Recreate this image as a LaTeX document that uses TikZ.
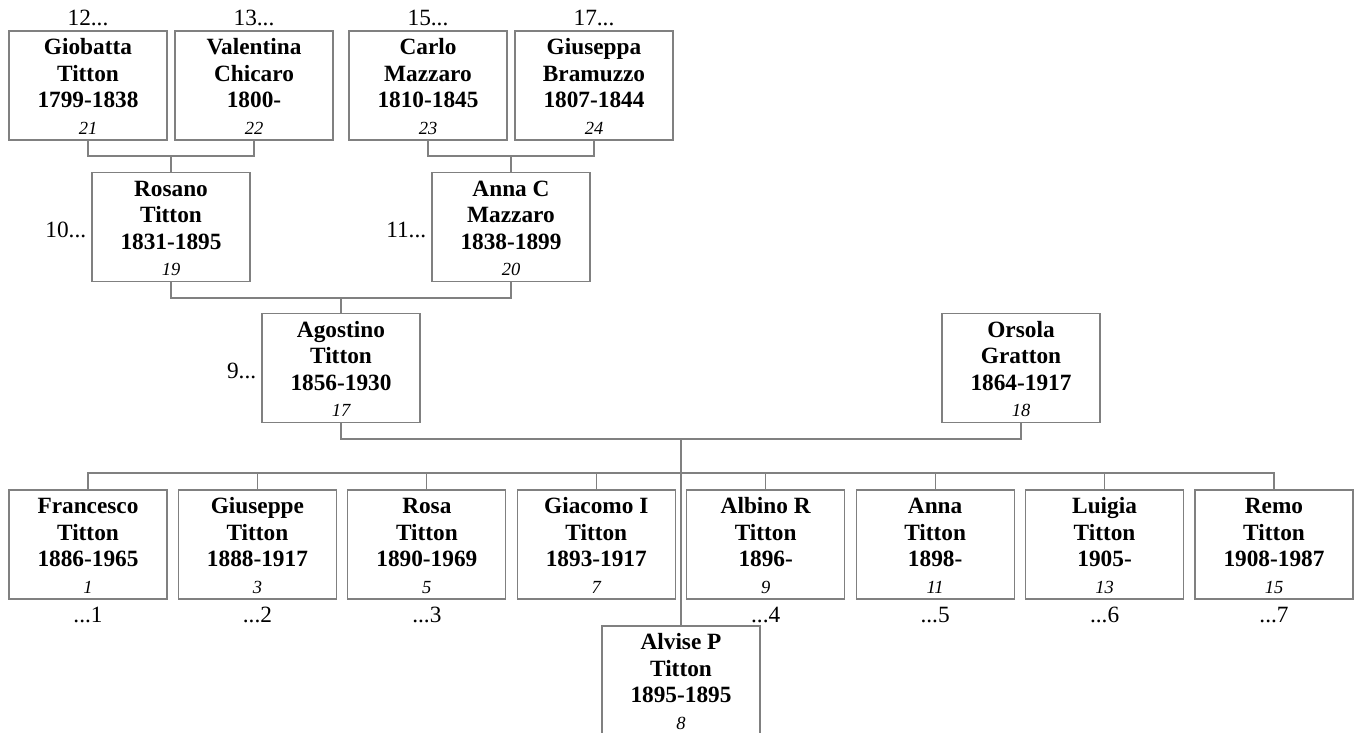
\documentclass[tikz,border=0pt]{standalone}
\usepackage{fontspec}
\setmainfont{Liberation Serif}
\usetikzlibrary{positioning}
\tikzstyle{person} = [rectangle, draw=black!50, line width=1.2pt, minimum width=158pt, minimum height=109pt, inner sep=0pt, align=center, text height=97pt, text depth=0pt, font=\fontsize{23.3}{26.5}\selectfont\bfseries]
\tikzstyle{link} = [draw=black!50, line width=1.2pt]
\tikzstyle{ref} = [font=\fontsize{23.3}{26.5}\selectfont, inner sep=2pt]
\newcommand{\pnum}[1]{{\fontsize{18.5}{26.5}\selectfont\mdseries\itshape #1}}
\def\kidy{544.5}
\def\kidstep{169.43}

\begin{document}
\begin{tikzpicture}[x=1pt,y=-1pt]

\useasboundingbox (0,0) rectangle (1360,732);

% grandparents
\node[person] (giobatta) at (88,85.5) {Giobatta\\Titton\\1799-1838\\\pnum{21}};
\node[person] (valentina) at (254,85.5) {Valentina\\Chicaro\\1800-\\\pnum{22}};
\node[person] (carlo) at (428,85.5) {Carlo\\Mazzaro\\1810-1845\\\pnum{23}};
\node[person] (giuseppa) at (594,85.5) {Giuseppa\\Bramuzzo\\1807-1844\\\pnum{24}};

\node[ref, above=2pt of giobatta] (n12) {12...};
\node[ref, above=2pt of valentina] (n13) {13...};
\node[ref, above=2pt of carlo] (n15) {15...};
\node[ref, above=2pt of giuseppa] (n17) {17...};

% parents
\node[person] (rosano) at (171,227) {Rosano\\Titton\\1831-1895\\\pnum{19}};
\node[person] (annac) at (511,227) {Anna C\\Mazzaro\\1838-1899\\\pnum{20}};
\node[ref, left=3pt of rosano, yshift=-2.5pt] (n10) {10...};
\node[ref, left=3pt of annac, yshift=-2.5pt] (n11) {11...};

\node[person] (agostino) at (341,368) {Agostino\\Titton\\1856-1930\\\pnum{17}};
\node[person] (orsola) at (1021,368) {Orsola\\Gratton\\1864-1917\\\pnum{18}};
\node[ref, left=3pt of agostino, yshift=-2.5pt] (n9) {9...};

% children
\foreach \i/\fn/\yr/\n in {1/Francesco/1886-1965/1, 2/Giuseppe/1888-1917/3,
  3/Rosa/1890-1969/5, 4/Giacomo I/1893-1917/7, 5/Albino R/1896-/9,
  6/Anna/1898-/11, 7/Luigia/1905-/13, 8/Remo/1908-1987/15}
  \node[person] (kid\i) at ({88+\kidstep*(\i-1)},\kidy) {\fn\\Titton\\\yr\\\pnum{\n}};

\foreach \i/\k in {1/1, 2/2, 3/3, 5/4, 6/5, 7/6, 8/7}
  \node[ref, below=5pt of kid\i] (dots\k) {...\k};

\node[person] (alvise) at (681,680.5) {Alvise P\\Titton\\1895-1895\\\pnum{8}};

% connectors
\coordinate (j1) at (171,156);
\coordinate (j2) at (511,156);
\coordinate (j3) at (341,298);
\coordinate (j4) at (681,439);
\coordinate (bar) at (681,473);

\draw[link] (giobatta.south) |- (j1) -| (valentina.south);
\draw[link] (j1) -- (rosano.north);
\draw[link] (carlo.south) |- (j2) -| (giuseppa.south);
\draw[link] (j2) -- (annac.north);
\draw[link] (rosano.south) |- (j3) -| (annac.south);
\draw[link] (j3) -- (agostino.north);
\draw[link] (agostino.south) |- (j4) -| (orsola.south);
\draw[link] (j4) -- (alvise.north);
\draw[link] (kid1.north) |- (bar) -| (kid8.north);
\foreach \i in {2,...,7}
  \draw[link] (kid\i.north) -- (kid\i.north |- bar);

\end{tikzpicture}
\end{document}
